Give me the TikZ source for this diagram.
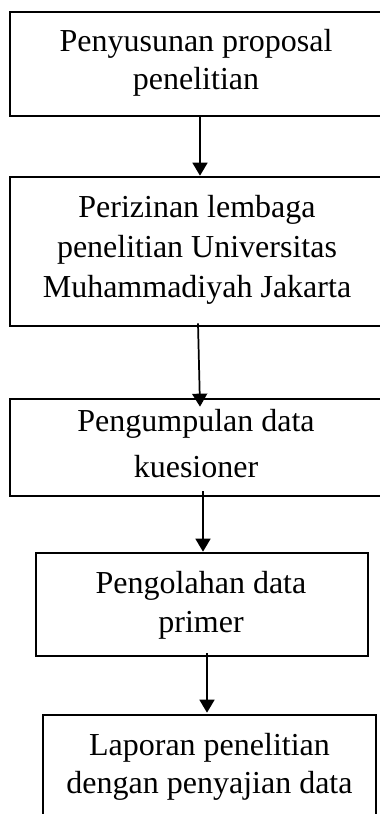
\documentclass[tikz,border=0pt]{standalone}
\usepackage{fontspec}
\setmainfont{Liberation Serif}
\usetikzlibrary{arrows.meta,calc}
\tikzset{
  stepbox/.style={draw=black, line width=2pt, rectangle, inner sep=0pt},
  steptext/.style={inner sep=0pt, align=center, font=\fontsize{24pt}{28.5pt}\selectfont},
  arr/.style={draw=black, line width=1.3pt, -{Triangle[width=11.25pt,length=9.75pt]}}
}
\begin{document}
\begin{tikzpicture}[x=0.75pt,y=-0.75pt]
\useasboundingbox (0,0) rectangle (379,814);
% boxes
\node[stepbox, minimum width=288.75pt, minimum height=78pt] (b1) at (202.5,64) {};
\node[stepbox, minimum width=288.75pt, minimum height=111.75pt] (b2) at (202.5,251.5) {};
\node[stepbox, minimum width=288.75pt, minimum height=72.75pt] (b3) at (202.5,447.5) {};
\node[stepbox, minimum width=249pt, minimum height=77.25pt] (b4) at (202,604.5) {};
\node[stepbox, minimum width=249.75pt, minimum height=78.75pt] (b5) at (209.5,767.5) {};
% texts
\node[steptext] (t1) at ($(b1)+(-6.5,-1.5)$) {Penyusunan proposal\\penelitian};
\node[steptext, font=\fontsize{24pt}{30pt}\selectfont] (t2) at ($(b2)+(-5.5,-2)$)
  {Perizinan lembaga\\penelitian Universitas\\Muhammadiyah Jakarta};
\node[steptext, font=\fontsize{24pt}{34.5pt}\selectfont] (t3) at ($(b3)+(-6.5,-3.5)$)
  {Pengumpulan data\\kuesioner};
\node[steptext, font=\fontsize{24pt}{29.25pt}\selectfont] (t4) at ($(b4)+(-1,0.5)$)
  {Pengolahan data\\primer};
\node[steptext] (t5) at ($(b5)+(0,-1)$) {Laporan penelitian\\dengan penyajian data};
% connectors
\draw[arr] ($(b1.south)+(-2.5,0)$) -- ($(b2.north)+(-2.5,0)$);
\draw[arr] ($(b2.south)+(-4.5,-4)$) -- ($(b3.north)+(-2.5,9)$);
\draw[arr] ($(b3.south)+(0.5,-6)$) -- ($(b4.north)+(1,0)$);
\draw[arr] ($(b4.south)+(5,-4)$) -- ($(b5.north)+(-2.5,-1)$);
\end{tikzpicture}
\end{document}
